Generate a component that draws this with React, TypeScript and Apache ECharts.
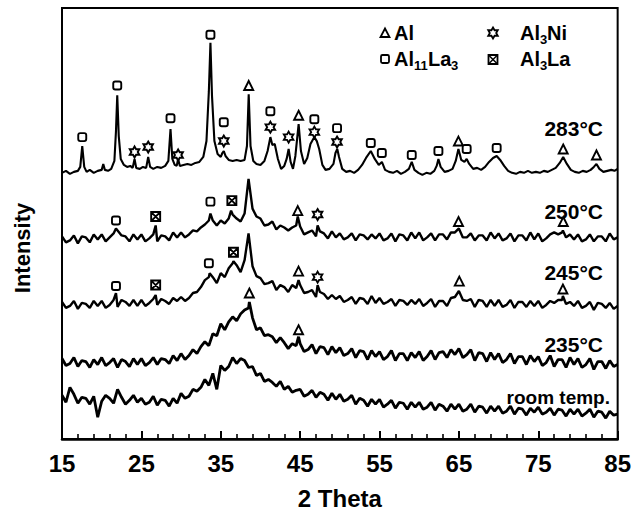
import React, { useEffect, useRef } from "react";
import * as echarts from "echarts";

// 2θ sampling of the noisy traces (degrees)
const GRID_START = 15;
const GRID_STEP = 0.5;

// 283 °C trace: [2θ, intensity (a.u.)]
const trace283: [number, number][] = [
  [15.0,268],[15.5,270],[16.0,267],[16.5,269],[17.0,270],[17.3,274],[17.55,295],[17.8,274],[18.1,269],[18.5,271],
  [19.0,268],[19.5,270],[20.0,271],[20.2,277],[20.4,271],[20.8,270],[21.2,272],[21.6,280],[21.8,310],[21.96,346],
  [22.15,305],[22.4,282],[22.8,276],[23.2,274],[23.6,275],[23.9,273],[24.14,282],[24.35,273],[24.8,272],[25.2,274],
  [25.6,273],[25.86,284],[26.1,274],[26.5,272],[27.0,274],[27.5,273],[28.0,275],[28.4,280],[28.67,312],[28.9,282],
  [29.2,276],[29.45,275],[29.63,282],[29.85,275],[30.3,276],[30.8,277],[31.3,276],[31.8,278],[32.3,279],[32.8,284],
  [33.2,300],[33.5,350],[33.7,399],[33.9,345],[34.2,300],[34.6,287],[35.0,284],[35.2,288],[35.38,290],[35.6,285],
  [36.0,281],[36.5,280],[37.0,281],[37.5,280],[38.0,281],[38.3,295],[38.52,347],[38.75,295],[39.1,280],[39.5,277],
  [40.0,276],[40.5,280],[40.9,290],[41.25,304],[41.5,296],[41.8,297],[42.2,282],[42.6,272],[43.0,275],[43.3,282],
  [43.55,292],[43.8,279],[44.1,272],[44.4,285],[44.81,317],[45.1,290],[45.5,277],[45.9,283],[46.3,297],[46.79,304],
  [47.1,300],[47.4,292],[47.8,276],[48.2,271],[48.7,272],[49.2,277],[49.45,288],[49.68,292],[49.9,284],[50.3,272],
  [50.8,269],[51.3,270],[51.8,268],[52.3,271],[52.8,276],[53.3,283],[53.9,290],[54.4,282],[54.9,276],[55.3,279],
  [55.7,271],[56.2,269],[56.7,268],[57.2,270],[57.7,267],[58.2,269],[58.7,272],[59.06,279],[59.4,271],[59.9,268],
  [60.4,266],[60.9,268],[61.4,267],[61.9,270],[62.2,275],[62.42,282],[62.7,274],[63.2,269],[63.7,270],[64.2,272],
  [64.6,280],[64.94,292],[65.3,281],[65.7,279],[65.98,282],[66.3,277],[66.8,272],[67.3,273],[67.8,271],[68.3,274],
  [68.8,279],[69.3,283],[69.76,285],[70.2,281],[70.7,275],[71.2,270],[71.7,268],[72.2,267],[72.7,269],[73.2,268],
  [73.7,270],[74.2,268],[74.7,269],[75.2,268],[75.7,270],[76.2,269],[76.7,271],[77.2,273],[77.7,278],[78.14,284],
  [78.6,277],[79.1,271],[79.6,269],[80.1,268],[80.6,270],[81.1,269],[81.6,271],[82.0,274],[82.33,277],[82.7,272],
  [83.2,269],[83.7,270],[84.2,271],[84.6,270],[85.0,272],
];

// 250 °C trace, sampled every 0.5° from 15°
const grid250: number[] = [
  204,198,200,205,197,204,203,198,206,201,
  206,199,203,207,210,205,204,199,206,201,
  206,199,202,206,199,205,204,200,208,203,
  208,203,206,210,209,213,216,220,220,215,
  220,217,222,226,222,219,227,262,232,224,
  222,215,216,219,211,215,213,210,213,215,
  214,206,208,210,204,209,207,202,209,203,
  207,201,203,207,200,206,205,201,206,202,
  207,200,202,207,199,206,205,200,208,202,
  208,200,203,207,200,206,206,201,208,208,
  212,203,203,207,200,205,205,200,208,202,
  207,200,202,207,199,205,205,200,208,201,
  207,199,202,206,208,206,208,203,206,201,
  206,199,201,206,199,204,204,199,207,201,
  203,
];
const peaks250: [number, number][] = [
  [21.8,212],[26.8,215],[33.7,227],[36.3,230],[44.7,224],[47.2,215],[78.1,210],
];

// 245 °C trace
const grid245: number[] = [
  138,132,134,139,131,137,136,132,139,134,
  139,132,135,140,133,140,138,134,140,134,
  140,134,137,141,135,141,139,136,142,139,
  143,139,142,147,148,153,160,163,163,157,
  167,163,172,177,175,168,180,207,174,164,
  162,156,157,159,150,155,153,148,155,152,
  155,147,148,150,143,148,146,141,145,141,
  144,138,140,143,136,142,141,136,144,137,
  142,136,138,141,134,140,139,135,140,136,
  141,134,137,141,133,139,139,134,142,143,
  149,140,139,141,133,140,139,133,140,134,
  140,133,135,140,132,138,138,133,139,134,
  139,132,135,139,137,140,140,136,138,134,
  139,132,134,138,130,137,136,132,137,131,
  134,
];
const peaks245: [number, number][] = [
  [21.8,147],[26.8,145],[33.6,167],[36.6,179],[44.8,160],[47.2,155],[78.1,144],
];

// 235 °C trace
const grid235: number[] = [
  81,74,76,82,73,79,78,72,80,75,
  82,74,77,81,72,80,78,73,81,75,
  81,74,77,82,75,81,80,76,84,79,
  86,80,84,90,86,93,98,94,106,104,
  116,110,118,123,119,126,130,132,122,110,
  112,104,105,103,97,102,97,91,96,94,
  96,88,90,95,86,93,92,85,93,87,
  92,84,86,91,82,89,88,80,89,83,
  88,80,83,89,79,86,86,79,87,82,
  88,79,83,89,80,87,88,82,90,85,
  91,82,85,90,79,87,86,78,87,80,
  86,77,80,86,76,83,83,75,84,78,
  83,74,77,84,73,80,80,72,82,75,
  81,72,75,81,70,78,78,71,79,73,
  75,
];
const peaks235: [number, number][] = [[38.6,138],[44.8,103]];

// room temperature trace
const gridRoom: number[] = [
  44,37,52,45,36,42,41,35,43,22,
  38,44,41,36,50,42,35,39,44,37,
  41,35,37,43,34,40,39,33,41,36,
  46,41,43,50,48,52,60,54,66,50,
  74,69,73,82,76,81,79,72,73,64,
  66,58,60,57,53,58,50,53,47,49,
  50,43,45,49,42,47,45,39,46,40,
  45,38,40,44,35,41,39,33,40,35,
  40,32,35,39,31,37,36,30,37,32,
  37,30,32,37,29,35,33,28,35,30,
  35,28,30,35,27,33,32,26,33,28,
  33,26,28,33,25,31,30,24,31,27,
  32,25,27,31,24,30,29,23,30,25,
  30,23,26,30,22,28,27,21,28,24,
  25,
];

// phase markers [2θ, height]
const markersAl: [number, number][] = [
  [38.52,356],[44.81,326],[64.94,300],[78.14,292],[82.33,286],
  [44.7,230],[64.95,219],[78.15,219],
  [44.8,169],[65.05,159],[78.1,151],
  [38.6,147],[44.8,110],
];
const markersAl11La3: [number, number][] = [
  [17.55,304],[21.96,356],[28.67,323],[33.7,407],[35.38,319],[41.25,330],[46.79,322],
  [49.65,313],[53.9,298],[55.29,288],[59.06,286],[62.42,290],[65.98,292],[69.76,293],
  [21.8,220],[33.7,239],
  [21.8,154],[33.5,177],
];
const markersAl3Ni: [number, number][] = [
  [24.14,289],[25.86,294],[29.63,286],[35.38,300],[41.25,314],[43.55,304],[46.79,309],[49.65,299],
  [47.2,226],
  [47.2,163],
];
const markersAl3La: [number, number][] = [
  [26.8,224],[36.4,240],
  [26.8,155],[36.6,188],
];

const xTicks = { min: 15, max: 85, interval: 10 };
const traceLabels = ["283°C", "250°C", "245°C", "235°C", "room temp."];

const STAR_PATH =
  "path://M5,0L6.44,2.5L9.33,2.5L7.89,5L9.33,7.5L6.44,7.5L5,10L3.56,7.5L0.67,7.5L2.11,5L0.67,2.5L3.56,2.5Z";
const AL3LA_PATH = "path://M0,0H10V10H0Z M0,0L10,10 M10,0L0,10";

function buildTrace(grid: number[], peaks: [number, number][]): [number, number][] {
  const pts: [number, number][] = grid.map((v, i) => [GRID_START + i * GRID_STEP, v]);
  return pts.concat(peaks).sort((a, b) => a[0] - b[0]);
}

const FONT = "'Liberation Sans', Arial, Helvetica, sans-serif";

export default function App() {
  const ref = useRef<HTMLDivElement>(null);
  useEffect(() => {
    if (!ref.current) return;
    const chart = echarts.init(ref.current, undefined, { renderer: "svg" });

    const lineSeries = (data: [number, number][], width: number) => ({
      type: "line",
      data,
      showSymbol: false,
      symbol: "none",
      lineStyle: { color: "#000", width },
      z: 2,
      silent: true,
    });
    const markerSeries = (data: [number, number][], symbol: string, size: number) => ({
      type: "scatter",
      data,
      symbol,
      symbolSize: size,
      symbolKeepAspect: true,
      itemStyle: { color: "#fff", borderColor: "#000", borderWidth: 1.9, opacity: 1 },
      z: 5,
      silent: true,
    });

    const txt = (text: string, x: number, y: number, size: number, align = "left") => ({
      type: "text",
      x,
      y,
      z: 10,
      style: {
        text,
        fill: "#000",
        fontSize: size,
        fontWeight: "bold",
        fontFamily: FONT,
        align,
        verticalAlign: "middle",
      },
    });

    const starPts = (cx: number, cy: number, s: number) => {
      const p = [
        [5, 0],[6.44, 2.5],[9.33, 2.5],[7.89, 5],[9.33, 7.5],[6.44, 7.5],
        [5, 10],[3.56, 7.5],[0.67, 7.5],[2.11, 5],[0.67, 2.5],[3.56, 2.5],
      ];
      return p.map(([a, b]) => [cx + ((a - 5) * s) / 10, cy + ((b - 5) * s) / 10]);
    };
    const stroke = { fill: "#fff", stroke: "#000", lineWidth: 1.8 };

    const labelY = [128, 211, 272, 344, 397];
    const labelX = [603, 603, 603, 603, 610];
    const labelSize = [21, 21, 21, 21, 19];

    chart.setOption({
      animation: false,
      grid: {
        left: 62,
        right: 16,
        top: 8,
        bottom: 73,
        show: true,
        borderColor: "#000",
        borderWidth: 2,
        backgroundColor: "transparent",
      },
      xAxis: {
        type: "value",
        min: xTicks.min,
        max: xTicks.max,
        interval: xTicks.interval,
        axisLine: { show: true, lineStyle: { color: "#000", width: 2.5 } },
        axisTick: { show: true, inside: true, length: 8, lineStyle: { color: "#000", width: 2 } },
        minorTick: { show: true, splitNumber: 5, length: 5, lineStyle: { color: "#000", width: 1.6 } },
        axisLabel: {
          color: "#000",
          fontSize: 24,
          fontWeight: "bold",
          fontFamily: FONT,
          margin: 12,
        },
        splitLine: { show: false },
        name: "2 Theta",
        nameLocation: "middle",
        nameGap: 47,
        nameTextStyle: { color: "#000", fontSize: 24, fontWeight: "bold", fontFamily: FONT },
      },
      yAxis: {
        type: "value",
        min: 0,
        max: 434,
        axisLine: { show: true, lineStyle: { color: "#000", width: 2 } },
        axisTick: { show: false },
        axisLabel: { show: false },
        splitLine: { show: false },
      },
      series: [
        lineSeries(buildTrace(gridRoom, []), 2.8),
        lineSeries(buildTrace(grid235, peaks235), 2.8),
        lineSeries(buildTrace(grid245, peaks245), 2.4),
        lineSeries(buildTrace(grid250, peaks250), 2.4),
        lineSeries(trace283, 2.1),
        markerSeries(markersAl, "triangle", 9),
        markerSeries(markersAl11La3, "roundRect", 8),
        markerSeries(markersAl3Ni, STAR_PATH, 11),
        markerSeries(markersAl3La, AL3LA_PATH, 9),
      ],
      graphic: [
        {
          type: "text",
          x: 22,
          y: 248,
          rotation: Math.PI / 2,
          z: 10,
          style: {
            text: "Intensity",
            fill: "#000",
            fontSize: 22,
            fontWeight: "bold",
            fontFamily: FONT,
            align: "center",
            verticalAlign: "middle",
          },
        },
        ...traceLabels.map((t, i) => txt(t, labelX[i], labelY[i], labelSize[i], "right")),
        // legend
        { type: "polygon", z: 10, shape: { points: [[385, 28.5], [389.5, 37], [380.5, 37]] }, style: stroke },
        txt("Al", 394, 33, 20),
        { type: "polygon", z: 10, shape: { points: starPts(493, 33, 11) }, style: stroke },
        txt("Al", 520, 33, 20),
        txt("3", 540, 39, 13),
        txt("Ni", 547, 33, 20),
        { type: "rect", z: 10, shape: { x: 381, y: 55, width: 8, height: 8, r: 1.5 }, style: stroke },
        txt("Al", 394, 59, 20),
        txt("11", 414, 65, 13),
        txt("La", 428, 59, 20),
        txt("3", 451, 65, 13),
        { type: "rect", z: 10, shape: { x: 488.5, y: 55, width: 9, height: 9 }, style: stroke },
        { type: "line", z: 11, shape: { x1: 488.5, y1: 55, x2: 497.5, y2: 64 }, style: { stroke: "#000", lineWidth: 1.5 } },
        { type: "line", z: 11, shape: { x1: 497.5, y1: 55, x2: 488.5, y2: 64 }, style: { stroke: "#000", lineWidth: 1.5 } },
        txt("Al", 520, 59, 20),
        txt("3", 540, 65, 13),
        txt("La", 547, 59, 20),
      ],
    });
    return () => chart.dispose();
  }, []);

  return (
    <div
      ref={ref}
      style={{ position: "fixed", left: 0, top: 0, width: 634, height: 515, background: "#fff" }}
    />
  );
}
